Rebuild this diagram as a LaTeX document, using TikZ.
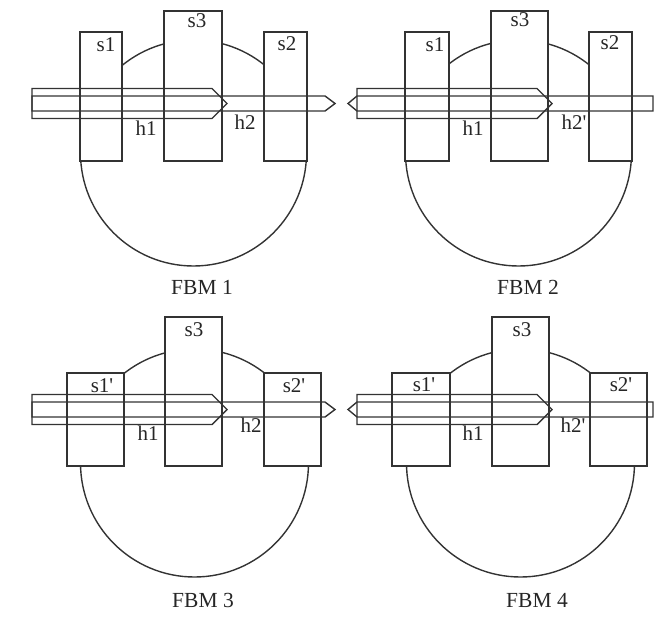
\documentclass[tikz,border=0pt]{standalone}
\usepackage{fontspec}
\setmainfont{Liberation Serif}

\begin{document}
\begin{tikzpicture}[
  x=1pt, y=-1pt,
  line width=1.4pt,
  seat/.style={draw=black!80},
  part/.style={draw=black!80, fill=white},
  shaft/.style={draw=black!80, line join=miter},
  lbl/.style={font=\fontsize{21}{22}\selectfont, inner sep=0pt, text=black!85},
  fbmtitle/.style={font=\fontsize{21.5}{23}\selectfont, inner sep=0pt, text=black!85},
]
\useasboundingbox (0,0) rectangle (671,616);

%% FBM 1
\begin{scope}
  \draw[seat] (193.5,153) circle[radius=113pt];
  \draw[part] (80,32) rectangle (122,161);
  \draw[part] (164,11) rectangle (222,161);
  \draw[part] (264,32) rectangle (307,161);
  \draw[shaft] (32,88.5) -- (212,88.5) -- (227,103.5) -- (212,118.5) -- (32,118.5) -- cycle;
  \draw[shaft] (32,96) -- (325,96) -- (335,103.5) -- (325,111) -- (32,111) -- cycle;
  \node[lbl] (s1a) at (106,45) {s1};
  \node[lbl] (s3a) at (197,21) {s3};
  \node[lbl] (s2a) at (287,44) {s2};
  \node[lbl] (h1a) at (146,128) {h1};
  \node[lbl] (h2a) at (245,122) {h2};
  \node[fbmtitle] (fbm1) at (202,287) {FBM 1};
\end{scope}

%% FBM 2
\begin{scope}[shift={(325,0)}]
  \draw[seat] (193.5,153) circle[radius=113pt];
  \draw[part] (80,32) rectangle (124,161);
  \draw[part] (166,11) rectangle (223,161);
  \draw[part] (264,32) rectangle (307,161);
  \draw[shaft] (32,88.5) -- (212,88.5) -- (227,103.5) -- (212,118.5) -- (32,118.5) -- cycle;
  \draw[shaft] (23,103.5) -- (32,96) -- (328,96) -- (328,111) -- (32,111) -- cycle;
  \node[lbl] (s1b) at (110,45) {s1};
  \node[lbl] (s3b) at (195,20) {s3};
  \node[lbl] (s2b) at (285,43) {s2};
  \node[lbl] (h1b) at (148,128) {h1};
  \node[lbl] (h2b) at (249,122) {h2\textquotesingle};
  \node[fbmtitle] (fbm2) at (203,287) {FBM 2};
\end{scope}

%% FBM 3
\begin{scope}[shift={(0,306)}]
  \draw[seat] (194.5,157) circle[radius=114pt];
  \draw[part] (67,67) rectangle (124,160);
  \draw[part] (165,11) rectangle (222,160);
  \draw[part] (264,67) rectangle (321,160);
  \draw[shaft] (32,88.5) -- (212,88.5) -- (227,103.5) -- (212,118.5) -- (32,118.5) -- cycle;
  \draw[shaft] (32,96) -- (325,96) -- (335,103.5) -- (325,111) -- (32,111) -- cycle;
  \node[lbl] (s1c) at (102,80) {s1\textquotesingle};
  \node[lbl] (s3c) at (194,24) {s3};
  \node[lbl] (s2c) at (294,80) {s2\textquotesingle};
  \node[lbl] (h1c) at (148,127) {h1};
  \node[lbl] (h2c) at (251,119) {h2};
  \node[fbmtitle] (fbm3) at (203,294) {FBM 3};
\end{scope}

%% FBM 4
\begin{scope}[shift={(325,306)}]
  \draw[seat] (195.5,157) circle[radius=114pt];
  \draw[part] (67,67) rectangle (125,160);
  \draw[part] (167,11) rectangle (224,160);
  \draw[part] (265,67) rectangle (322,160);
  \draw[shaft] (32,88.5) -- (212,88.5) -- (227,103.5) -- (212,118.5) -- (32,118.5) -- cycle;
  \draw[shaft] (23,103.5) -- (32,96) -- (328,96) -- (328,111) -- (32,111) -- cycle;
  \node[lbl] (s1d) at (99,79) {s1\textquotesingle};
  \node[lbl] (s3d) at (197,24) {s3};
  \node[lbl] (s2d) at (296,79) {s2\textquotesingle};
  \node[lbl] (h1d) at (148,127) {h1};
  \node[lbl] (h2d) at (248,119) {h2\textquotesingle};
  \node[fbmtitle] (fbm4) at (212,294) {FBM 4};
\end{scope}
\end{tikzpicture}
\end{document}
